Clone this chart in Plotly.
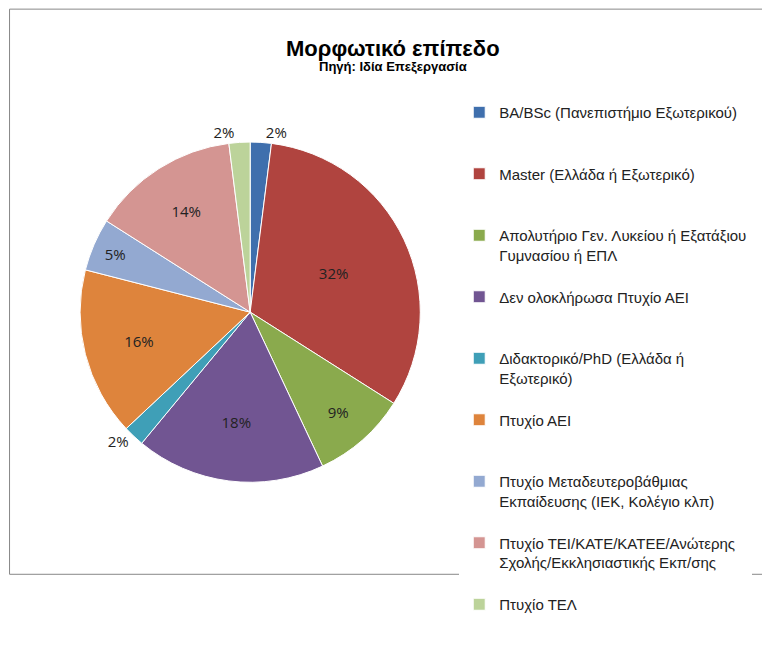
import plotly.graph_objects as go

labels = ["BA/BSc (Πανεπιστήμιο Εξωτερικού)", "Master (Ελλάδα ή Εξωτερικό)",
          "Απολυτήριο Γεν. Λυκείου ή Εξατάξιου<br>Γυμνασίου ή ΕΠΛ", "Δεν ολοκλήρωσα Πτυχίο ΑΕΙ",
          "Διδακτορικό/PhD (Ελλάδα ή<br>Εξωτερικό)", "Πτυχίο ΑΕΙ",
          "Πτυχίο Μεταδευτεροβάθμιας<br>Εκπαίδευσης (ΙΕΚ, Κολέγιο κλπ)",
          "Πτυχίο ΤΕΙ/ΚΑΤΕ/ΚΑΤΕΕ/Ανώτερης<br>Σχολής/Εκκλησιαστικής Εκπ/σης", "Πτυχίο ΤΕΛ"]
values = [2, 32, 9, 18, 2, 16, 5, 14, 2]
colors = ["#3F6FAD", "#B0443F", "#8AAA4D", "#715592", "#3F9FB7", "#DE843C",
          "#93A9D1", "#D49592", "#BCD39A"]
positions = ["outside", "inside", "inside", "inside", "outside", "inside", "inside", "inside", "outside"]

legend_labels = [l + ("<br> " if "<br>" in l else "<br> <br> ") for l in labels]

fig = go.Figure(go.Pie(
    labels=legend_labels, values=values, sort=False, direction="clockwise", rotation=0,
    marker=dict(colors=colors, line=dict(color="white", width=1)),
    texttemplate="%{percent:.0%}", textposition=positions, insidetextorientation="horizontal",
    textfont=dict(family="Open Sans", size=15, color="#222"),
    domain=dict(x=[0.061, 0.568], y=[0.165, 0.764]), hoverinfo="label+percent",
))
fig.update_layout(
    width=770, height=652, margin=dict(l=0, r=0, t=0, b=0),
    paper_bgcolor="white", plot_bgcolor="white",
    legend=dict(x=0.586, y=0.845, xanchor="left", yanchor="top", valign="top",
                font=dict(family="Liberation Sans, Arial", size=15, color="#222"),
                traceorder="normal", itemwidth=30),
    annotations=[
        dict(text="<b>Μορφωτικό επίπεδο</b>", x=0.5, y=1 - 30/652, xref="paper", yref="paper",
             showarrow=False, font=dict(family="Liberation Sans, Arial", size=22, color="black")),
        dict(text="<b>Πηγή: Ιδία Επεξεργασία</b>", x=0.5, y=1 - 56/652, xref="paper", yref="paper",
             showarrow=False, font=dict(family="Liberation Sans, Arial", size=13, color="black")),
    ],
    shapes=[dict(type="rect", xref="paper", yref="paper", x0=0.002, y0=0.003, x1=0.997, y1=0.998,
                 line=dict(color="#888", width=1))],
)
fig.write_html("out.html")
